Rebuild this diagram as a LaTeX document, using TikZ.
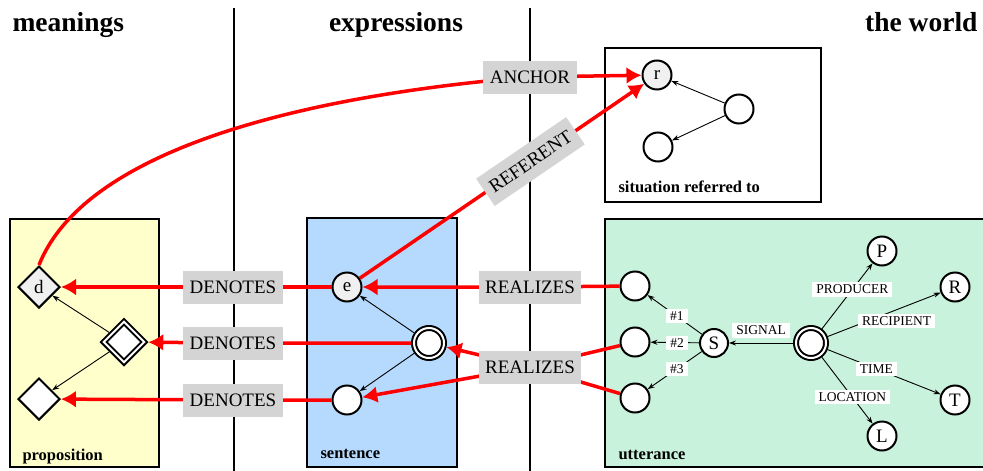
\documentclass[tikz,border=0pt]{standalone}
\usepackage{fontspec}
\setmainfont{Liberation Serif}
\usetikzlibrary{shapes.geometric,arrows.meta}

\definecolor{propfill}{HTML}{FFFFCC}
\definecolor{sentfill}{HTML}{B6DAFD}
\definecolor{uttfill}{HTML}{C9F2DC}
\definecolor{tagfill}{HTML}{D4D4D4}
\definecolor{nodegray}{HTML}{F0F0F0}

\begin{document}
\begin{tikzpicture}[x=1pt, y=-1pt,
    main/.style = {draw, circle, line width=2pt, fill=white, minimum size=29pt, inner sep=0pt, font=\fontsize{19}{19}\selectfont},
    dmain/.style = {main, double=white, double distance=2pt, minimum size=30pt, outer sep=3pt},
    prop/.style = {draw, diamond, line width=2pt, fill=white, minimum size=42pt, inner sep=0pt, font=\fontsize{19}{19}\selectfont},
    dprop/.style = {prop, double=white, double distance=2pt, minimum size=43pt, outer sep=3pt},
    link/.style = {red, line width=3.5pt, -{Latex[length=15pt,width=17pt]}},
    tag/.style = {fill=tagfill, text=black, inner xsep=6.5pt, inner ysep=0pt, minimum height=33pt, font=\fontsize{19}{19}\selectfont},
    role/.style = {fill=white, inner xsep=4pt, inner ysep=2.5pt, font=\fontsize{13.5}{13.5}\selectfont},
    arc/.style = {line width=0.9pt, -{Stealth[length=7pt,width=5pt]}},
    panel/.style = {draw, line width=1.2pt},
    title/.style = {anchor=base, font=\fontsize{27.5}{27.5}\bfseries\selectfont},
    caption/.style = {anchor=base west, font=\fontsize{16.5}{16.5}\bfseries\selectfont}]
    \useasboundingbox (0,0) rectangle (983,471);

    %% columns
    \draw[line width=1.2pt] (234,8) -- (234,471);
    \draw[line width=1.2pt] (530,8) -- (530,471);
    \node[title, anchor=base west] (meanings) at (9,31) {meanings};
    \node[title] (expressions) at (396,31) {expressions};
    \node[title, anchor=base east] (world) at (981,31) {the world};

    %% boxes
    \draw[panel, fill=propfill] (10,219) rectangle (159,467);
    \draw[panel, fill=sentfill] (307,218) rectangle (457,467);
    \draw[panel, fill=uttfill] (605,219) rectangle (990,467);
    \draw[panel] (605,48) rectangle (821,202);
    \node[caption] (propcap) at (19,460) {proposition};
    \node[caption] (sentcap) at (317,458) {sentence};
    \node[caption] (uttcap) at (615,459) {utterance};
    \node[caption] (sitcap) at (615,192) {situation referred to};

    %% proposition
    \node[prop, fill=nodegray] (d) at (39,287) {d};
    \node[dprop] (pp) at (124,342) {};
    \node[prop] (p2) at (39,399) {};
    \draw[arc] (pp) -- (d);
    \draw[arc] (pp) -- (p2);

    %% sentence
    \node[main, fill=nodegray] (e) at (347,287) {e};
    \node[dmain] (sx) at (429,343) {};
    \node[main] (s2) at (347,400) {};
    \draw[arc] (sx) -- (e);
    \draw[arc] (sx) -- (s2);

    %% situation
    \node[main, fill=nodegray] (r) at (657,75) {r};
    \node[main] (sa) at (739,109) {};
    \node[main] (sb) at (658,147) {};
    \draw[arc] (sa) -- (r);
    \draw[arc] (sa) -- (sb);

    %% utterance
    \node[main] (u1) at (635,286) {};
    \node[main] (u2) at (635,342) {};
    \node[main] (u3) at (635,398) {};
    \node[main, minimum size=28pt] (sig) at (714,343) {S};
    \node[dmain] (utt) at (811,343) {};
    \node[main] (prod) at (882,251) {P};
    \node[main] (rec) at (955,287) {R};
    \node[main] (time) at (955,400) {T};
    \node[main] (loc) at (882,436) {L};
    \draw[arc] (sig) -- node[role, pos=0.46] {\#1} (u1);
    \draw[arc] (sig) -- node[role, pos=0.45] {\#2} (u2);
    \draw[arc] (sig) -- node[role, pos=0.46] {\#3} (u3);
    \draw[arc] (utt) -- node[role, above=5pt] {SIGNAL} (sig);
    \draw[arc] (utt) -- node[role, pos=0.6] {PRODUCER} (prod);
    \draw[arc] (utt) -- node[role, pos=0.61, yshift=-11pt] {RECIPIENT} (rec);
    \draw[arc] (utt) -- node[role, pos=0.43] {TIME} (time);
    \draw[arc] (utt) -- node[role, pos=0.6] {LOCATION} (loc);

    %% red links
    \coordinate (dn1) at (233,287);
    \coordinate (dn2) at (233,343);
    \coordinate (dn3) at (233,400);
    \coordinate (rl1) at (530,287);
    \coordinate (rl2) at (530,367);
    \coordinate (anc) at (530,77);
    \draw[link] (e) -- (dn1) -- (d);
    \draw[link] (sx) -- (dn2) -- (pp);
    \draw[link] (s2) -- (dn3) -- (p2);
    \draw[link] (u1) -- (rl1) -- (e);
    \draw[link] (u2) -- (rl2) -- (sx);
    \draw[link] (u3) -- (rl2) -- (s2);
    \draw[link] (d.north) .. controls (85,150) and (300,96) .. (anc) -- (r);
    \draw[link] (e) -- node[tag, sloped, pos=0.6] {REFERENT} (r);
    \node[tag] at (dn1) {DENOTES};
    \node[tag] at (dn2) {DENOTES};
    \node[tag] at (dn3) {DENOTES};
    \node[tag] at (rl1) {REALIZES};
    \node[tag] at (rl2) {REALIZES};
    \node[tag] at (anc) {ANCHOR};
\end{tikzpicture}
\end{document}
